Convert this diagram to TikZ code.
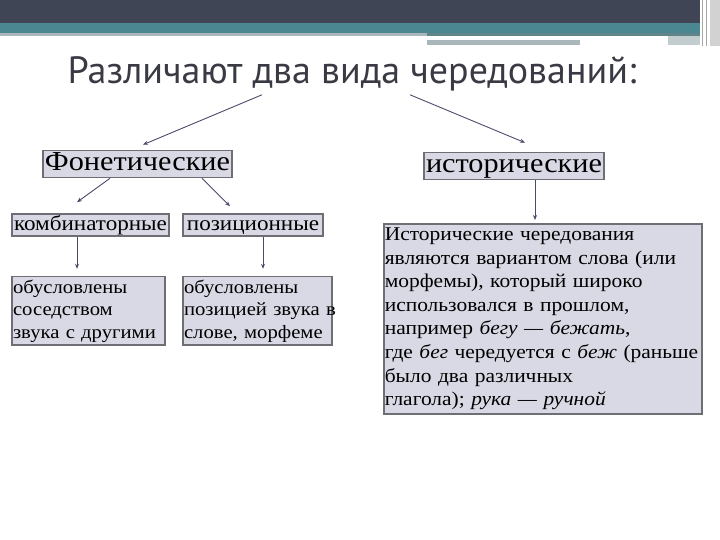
\documentclass[tikz,border=0pt]{standalone}
\usepackage{fontspec}
\setmainfont{Liberation Serif}[FakeStretch=1.1]
\newfontfamily\titlefont{PT Sans}
\usetikzlibrary{positioning, arrows.meta}

\definecolor{boxfill}{HTML}{D9D9E5}
\definecolor{boxline}{HTML}{6E6E74}
\definecolor{bardark}{HTML}{404556}
\definecolor{barteal}{HTML}{4A8790}
\definecolor{stripgray}{HTML}{A9B6BA}
\definecolor{arrowline}{HTML}{4A4A6A}
\definecolor{titletext}{HTML}{3A3A44}

\tikzset{
  kind/.style={draw=boxline, line width=1.6pt, fill=boxfill, inner xsep=2pt, inner ysep=1pt,
               text height=19pt, text depth=6pt, font=\fontsize{27.5}{30}\selectfont},
  subkind/.style={draw=boxline, line width=1.6pt, fill=boxfill, inner xsep=2pt,
               inner ysep=0pt, minimum height=22pt, text height=15pt, text depth=5pt,
               font=\fontsize{21}{22.5}\selectfont},
  note/.style={draw=boxline, line width=1.6pt, fill=boxfill, inner xsep=1pt, inner ysep=3pt,
               align=left, font=\fontsize{18.8}{22.5}\selectfont},
  link/.style={draw=arrowline, line width=0.9pt, -{Stealth[length=5pt, width=4pt]}}
}

\begin{document}
\begin{tikzpicture}[x=1pt, y=-1pt]
	\useasboundingbox (0,0) rectangle (720,540);
	
	% slide header
	\fill[bardark]         (0,0)   rectangle (700,23);
	\fill[barteal]         (0,23)  rectangle (700,33);
	\fill[stripgray]       (0,33)  rectangle (427,36);
	\fill[barteal!60!gray] (427,33) rectangle (700,36);
	\fill[stripgray]       (427,40) rectangle (580,45);
	\fill[stripgray!70]    (668,36) rectangle (700,45);
	\fill[gray!35]         (710,0)  rectangle (720,46);
	\draw[gray!70, line width=1pt] (702,0) -- (702,46) (706,0) -- (706,46);
	
	\node[font=\titlefont\fontsize{38}{42}\selectfont, text=titletext] (title) at (352,74) {Различают два вида чередований:};
	
	\node[kind]                                   (phon)  at (137.5,164) {Фонетические};
	\node[kind]                                   (hist)  at (514,166)   {исторические};
	\node[subkind, minimum width=153pt]           (comb)  at (90.5,225)  {комбинаторные};
	\node[subkind, minimum width=140pt]           (pos)   at (253,225)   {позиционные};
	\node[note, text width=151pt, below right=39pt and 0pt of comb.south west, anchor=north west] (combnote)
		{обусловлены\\соседством\\звука~с~другими};
	\node[note, text width=147pt, below right=39pt and 0pt of pos.south west, anchor=north west]  (posnote)
		{обусловлены\\позицией~звука~в\\слове,~морфеме};
	\node[note, text width=316pt, font=\fontsize{19.5}{23.6}\selectfont, anchor=north west, inner ysep=4pt] (histnote) at (383,223)
		{Исторические чередования\\являются вариантом слова (или\\морфемы), который широко\\использовался в прошлом,\\например \textit{бегу — бежать},\\где~\textit{бег}~чередуется~с~\textit{беж}~(раньше\\было два различных\\глагола); \textit{рука — ручной}};
	
	\draw[link] ([xshift=-90pt]title.south) -- ([xshift=5.5pt, yshift=5pt]phon.north);
	\draw[link] ([xshift=58pt]title.south)  -- ([xshift=11pt, yshift=9pt]hist.north);
	\draw[link] ([xshift=-27.5pt]phon.south) -- ([xshift=-13.5pt, yshift=11pt]comb.north);
	\draw[link] ([xshift=64.5pt]phon.south)  -- ([xshift=-23pt, yshift=7pt]pos.north);
	\draw[link] ([xshift=-13.5pt]comb.south) -- ([xshift=-13.5pt, yshift=7pt]comb.south |- combnote.north);
	\draw[link] ([xshift=10pt]pos.south)     -- ([xshift=10pt, yshift=7pt]pos.south |- posnote.north);
	\draw[link] ([xshift=21pt]hist.south)    -- ([xshift=21pt, yshift=3pt]hist.south |- histnote.north);
\end{tikzpicture}
\end{document}
